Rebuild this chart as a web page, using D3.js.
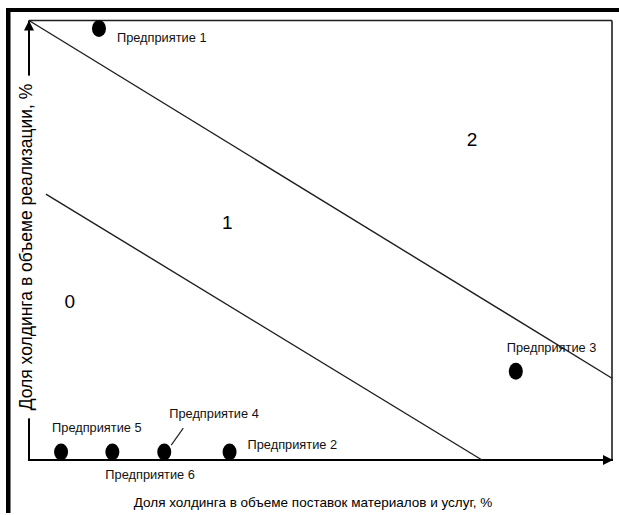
<!DOCTYPE html>
<html><head><meta charset="utf-8">
<script src="https://cdn.jsdelivr.net/npm/d3@7/dist/d3.min.js"></script>
<style>html,body{margin:0;padding:0;background:#fff;}svg{display:block;font-family:"Liberation Sans",Arial,sans-serif;}</style>
</head><body>
<script>
// ---- data (conceptual 0..100 % scales) ----
const enterprises = ["Предприятие 1","Предприятие 2","Предприятие 3","Предприятие 4","Предприятие 5","Предприятие 6"];
const supplyShare = [12.0, 34.4, 83.5, 23.2, 5.5, 14.3];   // x
const salesShare  = [98.2, 1.8, 20.2, 1.8, 1.8, 1.8];       // y
const boundaryUpper = [[0,100],[100,18.6]];
const boundaryLower = [[2.9,60.5],[77.7,0]];
const zoneLabels = ["0","1","2"];
const zoneX = [7, 34, 76];
const zoneY = [36, 54, 73];
const xTitle = "Доля холдинга в объеме поставок материалов и услуг, %";
const yTitle = "Доля холдинга в объеме реализации, %";

// ---- layout ----
const W = 619, H = 515;
const labelOffsets = [[18,14],[18,-3],[-9,-19],[5,-34],[-9,-20],[-7,27]];

const svg = d3.select("body").append("svg").attr("width",W).attr("height",H);
const x = d3.scaleLinear().domain([0,100]).range([29,612]);
const y = d3.scaleLinear().domain([0,100]).range([460,20.5]);

// outer thick frame
svg.append("rect").attr("x",6).attr("y",8).attr("width",W-6).attr("height",4).attr("fill","#000");
svg.append("rect").attr("x",6).attr("y",8).attr("width",4.5).attr("height",H-10).attr("fill","#000");

const stroke = "#1e1e1e";
// inner frame: top and right
svg.append("line").attr("x1",x(0)).attr("y1",y(100)).attr("x2",x(100)).attr("y2",y(100)).attr("stroke",stroke).attr("stroke-width",1.6);
svg.append("line").attr("x1",x(100)).attr("y1",y(100)).attr("x2",x(100)).attr("y2",y(0)).attr("stroke",stroke).attr("stroke-width",1.6);

// axes with arrows
const defs = svg.append("defs");
defs.append("marker").attr("id","arr").attr("viewBox","0 0 10 10").attr("refX",10).attr("refY",5)
  .attr("markerWidth",10).attr("markerHeight",10).attr("markerUnits","userSpaceOnUse").attr("orient","auto")
  .append("path").attr("d","M0,0L10,5L0,10Z").attr("fill","#000");
svg.append("line").attr("x1",x(0)).attr("y1",y(0)).attr("x2",x(100)+1).attr("y2",y(0)).attr("stroke","#000").attr("stroke-width",2).attr("marker-end","url(#arr)");
svg.append("line").attr("x1",x(0)).attr("y1",y(0)+1).attr("x2",x(0)).attr("y2",y(100)).attr("stroke","#000").attr("stroke-width",2).attr("marker-end","url(#arr)");

// boundary lines
const line = d3.line().x(d=>x(d[0])).y(d=>y(d[1]));
[boundaryUpper, boundaryLower].forEach(b=>{
  svg.append("path").attr("d",line(b)).attr("fill","none").attr("stroke",stroke).attr("stroke-width",1.4);
});

// zone labels
svg.selectAll("text.zone").data(zoneLabels).join("text").attr("class","zone")
  .attr("x",(d,i)=>x(zoneX[i])).attr("y",(d,i)=>y(zoneY[i])).attr("text-anchor","middle").attr("dominant-baseline","central")
  .attr("font-size",19).attr("fill","#000").text(d=>d);

// y title with white backing over the axis
const yt = svg.append("text").attr("transform",`translate(${x(0)-3},247) rotate(-90)`).attr("text-anchor","middle")
  .attr("dominant-baseline","central").attr("font-size",17.5).attr("fill","#000").text(yTitle);
const bb = yt.node().getBBox();
svg.insert("rect","text").attr("x",x(0)-12).attr("y",247-bb.width/2-8).attr("width",20).attr("height",bb.width+16).attr("fill","#fff");
yt.raise();

// x title
svg.append("text").attr("x",313).attr("y",507).attr("text-anchor","middle").attr("font-size",13.5).attr("fill","#000").text(xTitle);

// points
const pts = enterprises.map((n,i)=>({name:n, x:supplyShare[i], y:salesShare[i], off:labelOffsets[i]}));
svg.selectAll("ellipse.pt").data(pts).join("ellipse").attr("class","pt")
  .attr("cx",d=>x(d.x)).attr("cy",d=>y(d.y)).attr("rx",7).attr("ry",8.5).attr("fill","#000");
svg.selectAll("text.lbl").data(pts).join("text").attr("class","lbl")
  .attr("x",d=>x(d.x)+d.off[0]).attr("y",d=>y(d.y)+d.off[1]).attr("font-size",12.8).attr("fill","#111").text(d=>d.name);

// leader line for Предприятие 4
const p4 = pts[3];
svg.append("line").attr("x1",x(p4.x)+7).attr("y1",y(p4.y)-7).attr("x2",x(p4.x)+19).attr("y2",y(p4.y)-24)
  .attr("stroke","#222").attr("stroke-width",1.2);
</script>
</body></html>
